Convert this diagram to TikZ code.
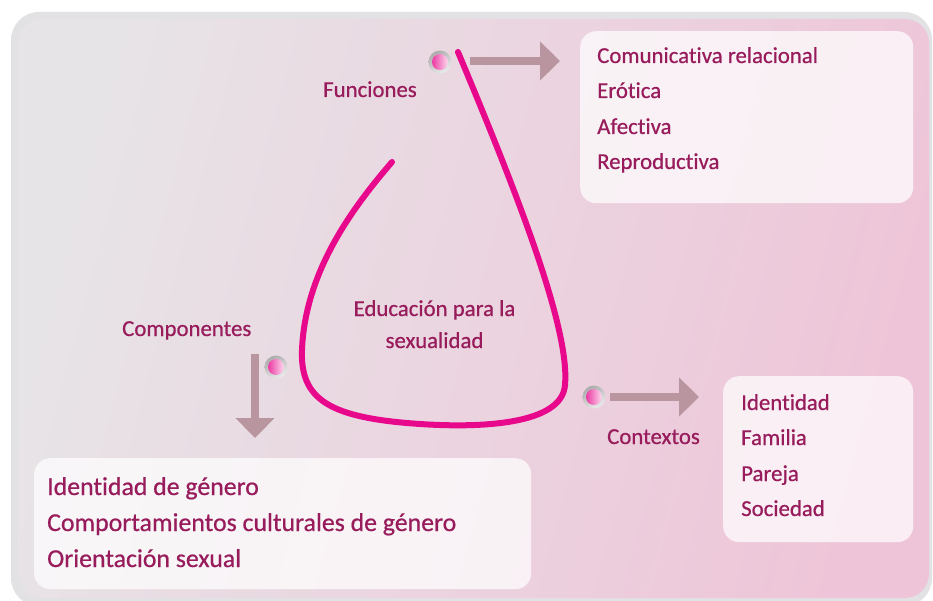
\documentclass[tikz,border=0pt]{standalone}
\usepackage{fontspec}
\setmainfont{Carlito}[Ligatures=NoCommon, FakeBold=0.6]
\usepackage{tikz}
\usetikzlibrary{arrows.meta,calc}

\definecolor{wine}{RGB}{152,28,92}
\definecolor{hotpink}{RGB}{232,8,140}
\definecolor{mauve}{RGB}{185,150,159}
\definecolor{bgleft}{RGB}{231,228,231}
\definecolor{bgright}{RGB}{238,197,216}
\definecolor{rim}{RGB}{226,225,228}

\tikzset{
    lbl/.style={anchor=base west, inner sep=0pt, text=wine, font=\fontsize{22.8}{26}\selectfont},
    biglbl/.style={lbl, font=\fontsize{25.8}{30}\selectfont},
    panel/.style={anchor=north west, inner sep=0pt, fill=white, fill opacity=0.72, rounded corners=16pt},
    bullet/.style={circle, inner sep=0pt, minimum size=23pt,
        path picture={
            \shade[left color=gray!65, right color=gray!15, shading angle=30]
                (path picture bounding box.south west) rectangle (path picture bounding box.north east);
            \shade[left color=hotpink!80!white, right color=hotpink!15!white]
                (path picture bounding box.center) circle (8pt);}},
    bigarrow/.style={mauve, line width=8pt, -{Triangle[width=38pt,length=20pt]}}
}

\begin{document}
\begin{tikzpicture}[x=1pt,y=-1pt]
    \useasboundingbox (0,0) rectangle (933,601);
    \fill[white] (0,0) rectangle (933,601);

    % Background card with grey rim
    \fill[rim, rounded corners=28pt] (11,12) rectangle (932,606);
    \shade[rounded corners=24pt, left color=bgleft, right color=bgright, shading angle=75]
        (18,19) rectangle (929,598);

    % Text panels
    \node[panel, minimum width=333pt, minimum height=172pt] (funbox) at (580,31) {};
    \node[panel, minimum width=190pt, minimum height=166pt] (ctxbox) at (723,376) {};
    \node[panel, minimum width=497pt, minimum height=131pt] (cmpbox) at (34,458) {};

    % Items of each panel
    \node[lbl] (fun1) at (597,63)  {Comunicativa relacional};
    \node[lbl] (fun2) at (597,98)  {Erótica};
    \node[lbl] (fun3) at (597,134) {Afectiva};
    \node[lbl] (fun4) at (597,169) {Reproductiva};

    \node[lbl] (ctx1) at (741,410) {Identidad};
    \node[lbl] (ctx2) at (741,445) {Familia};
    \node[lbl] (ctx3) at (741,481) {Pareja};
    \node[lbl] (ctx4) at (741,516) {Sociedad};

    \node[biglbl] (cmp1) at (47,495) {Identidad de género};
    \node[biglbl] (cmp2) at (47,531) {Comportamientos culturales de género};
    \node[biglbl] (cmp3) at (47,567) {Orientación sexual};

    % Headings
    \node[lbl] (funlbl) at (323,97)  {Funciones};
    \node[lbl] (cmplbl) at (122,336) {Componentes};
    \node[lbl] (ctxlbl) at (607,444) {Contextos};
    \node[lbl, anchor=base] (edu1) at (434.5,316) {Educación para la};
    \node[lbl, anchor=base] (edu2) at (434.5,348) {sexualidad};

    % Open loop
    \draw[hotpink, line width=6pt, line cap=round]
        (458,52) .. controls (520,200) and (570,330) .. (565,385)
                 .. controls (562,425) and (480,428) .. (420,424)
                 .. controls (330,418) and (300,400) .. (302,350)
                 .. controls (305,270) and (355,205) .. (392,162);

    % Bullets
    \node[bullet] (fundot) at (440,62) {};
    \node[bullet] (cmpdot) at (276,367) {};
    \node[bullet] (ctxdot) at (594,397) {};

    % Arrows
    \coordinate (funA) at (470,61);  \coordinate (funB) at (560,61);
    \coordinate (cmpA) at (255,354); \coordinate (cmpB) at (255,438);
    \coordinate (ctxA) at (610,397); \coordinate (ctxB) at (699,397);
    \draw[bigarrow] (funA) -- (funB);
    \draw[bigarrow] (cmpA) -- (cmpB);
    \draw[bigarrow] (ctxA) -- (ctxB);
\end{tikzpicture}
\end{document}
